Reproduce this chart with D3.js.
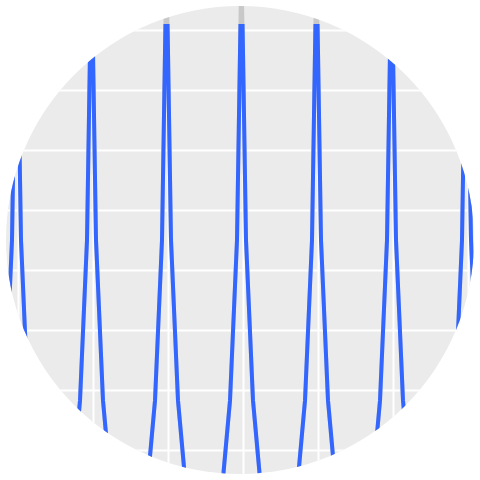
<!DOCTYPE html>
<html>
<head>
<meta charset="utf-8">
<script src="https://cdn.jsdelivr.net/npm/d3@7"></script>
<style>
  html, body { margin: 0; padding: 0; background: #ffffff; }
  svg { display: block; }
</style>
</head>
<body>
<svg id="chart" width="480" height="480"></svg>
<script>
// ---- data ----
const xValues = [
  -0.52, -0.26, -0.173, -0.08, -0.02, 0.04, 0.133, 0.22,
  0.48, 0.74, 0.827, 0.92, 0.98, 1.04, 1.133, 1.22,
  1.48, 1.74, 1.827, 1.92, 1.98, 2.04, 2.133, 2.22,
  2.48, 2.74, 2.827, 2.92, 2.98, 3.04, 3.133, 3.22,
  3.48, 3.74, 3.827, 3.92, 3.98, 4.04, 4.133, 4.22,
  4.48, 4.74, 4.827, 4.92, 4.98, 5.04, 5.133, 5.22,
  5.48, 5.74, 5.827, 5.92, 5.98, 6.04, 6.133, 6.22,
  6.48
];
const yValues = [
  -2.3, -0.38, 0.83, 3.5, 8.2, 3.5, 0.83, -0.38,
  -2.3, -0.38, 0.83, 3.5, 8.2, 3.5, 0.83, -0.38,
  -2.3, -0.38, 0.83, 3.5, 8.2, 3.5, 0.83, -0.38,
  -2.3, -0.38, 0.83, 3.5, 8.2, 3.5, 0.83, -0.38,
  -2.3, -0.38, 0.83, 3.5, 8.2, 3.5, 0.83, -0.38,
  -2.3, -0.38, 0.83, 3.5, 8.2, 3.5, 0.83, -0.38,
  -2.3, -0.38, 0.83, 3.5, 8.2, 3.5, 0.83, -0.38,
  -2.3
];
const xTicks = [0, 1, 2, 3, 4, 5, 6];
const yTicks = [0, 1, 2, 3, 4, 5, 6, 7];
const xDomain = [-0.24, 6.16];
const yDomain = [-0.4, 7.1];

// ---- layout ----
const W = 480, H = 480;
const cx = 240, cy = 240, R = 234;
const plotTop = 24;

const x = d3.scaleLinear().domain(xDomain).range([0, W]);
const y = d3.scaleLinear().domain(yDomain).range([474, plotTop]);

const svg = d3.select("#chart");
const defs = svg.append("defs");
defs.append("clipPath").attr("id", "circ")
  .append("circle").attr("cx", cx).attr("cy", cy).attr("r", R);
defs.append("clipPath").attr("id", "plotArea")
  .append("rect").attr("x", 0).attr("y", plotTop).attr("width", W).attr("height", H - plotTop);

const g = svg.append("g").attr("clip-path", "url(#circ)");

g.append("rect").attr("x", 0).attr("y", 0).attr("width", W).attr("height", H)
  .attr("fill", "#ebebeb");

// gridlines via axes
const yGrid = d3.axisLeft(y).tickValues(yTicks).tickSize(-W).tickFormat("");
g.append("g").attr("transform", "translate(0,0)").call(yGrid)
  .call(s => s.select(".domain").remove())
  .call(s => s.selectAll("line").attr("stroke", "#ffffff").attr("stroke-width", 2));

const xGrid = d3.axisTop(x).tickValues(xTicks).tickSize(-H).tickFormat("");
g.append("g").attr("transform", "translate(0,0)").call(xGrid)
  .call(s => s.select(".domain").remove())
  .call(s => s.selectAll("line").attr("stroke", "#ffffff").attr("stroke-width", 2));

const data = xValues.map((v, i) => ({ x: v, y: yValues[i] }));
const line = d3.line().x(d => x(d.x)).y(d => y(d.y));

// unclipped (outside plot area) part shown in gray
g.append("path").datum(data).attr("d", line)
  .attr("fill", "none").attr("stroke", "#c8c8c8").attr("stroke-width", 4)
  .attr("stroke-linejoin", "round");

g.append("g").attr("clip-path", "url(#plotArea)")
  .append("path").datum(data).attr("d", line)
  .attr("fill", "none").attr("stroke", "#3366ff").attr("stroke-width", 4)
  .attr("stroke-linejoin", "round");
</script>
</body>
</html>
